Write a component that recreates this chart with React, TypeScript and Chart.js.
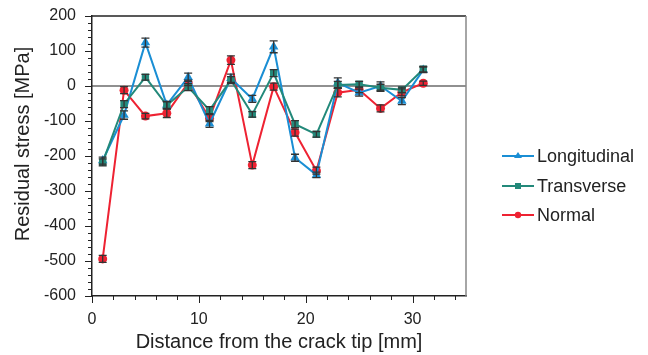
import React, { useEffect, useRef } from "react";
import { Chart, registerables } from "chart.js";

Chart.register(...registerables);

const distances = [1, 3, 5, 7, 9, 11, 13, 15, 17, 19, 21, 23, 25, 27, 29, 31];
const longitudinal = [-213, -83, 124, -54, 25, -108, 22, -37, 112, -205, -254, 9, -19, 0, -43, 46];
const longitudinalErr = [10, 12, 13, 10, 12, 10, 12, 10, 17, 10, 8, 14, 10, 12, 10, 8];
const transverse = [-218, -52, 25, -55, -3, -69, 17, -81, 37, -109, -138, 3, 5, -5, -11, 48];
const transverseErr = [10, 10, 8, 10, 10, 10, 10, 8, 10, 10, 8, 10, 8, 10, 8, 8];
const normal = [-494, -12, -86, -78, 9, -92, 74, -226, -2, -133, -242, -19, -11, -64, -18, 8];
const normalErr = [10, 10, 8, 12, 8, 10, 12, 10, 10, 10, 10, 12, 8, 10, 10, 6];

const seriesNames = ["Longitudinal", "Transverse", "Normal"];
const xTickLabels = [0, 10, 20, 30];
const yTickLabels = [200, 100, 0, -100, -200, -300, -400, -500, -600];

const COLORS = ["#1a8ed4", "#23897a", "#ee2232"];
const FONT = "'Liberation Sans', Arial, sans-serif";

const errs = [longitudinalErr, transverseErr, normalErr];

const customPlugin = {
  id: "custom",
  beforeDatasetsDraw(chart: any) {
    const { ctx, chartArea: a, scales } = chart;
    const y = scales.y;
    ctx.save();
    ctx.strokeStyle = "#222";
    ctx.lineWidth = 1.2;
    ctx.beginPath();
    ctx.moveTo(a.left, y.getPixelForValue(0));
    ctx.lineTo(a.right, y.getPixelForValue(0));
    ctx.stroke();
    ctx.restore();
  },
  afterDatasetsDraw(chart: any) {
    const { ctx, scales } = chart;
    const x = scales.x;
    const y = scales.y;
    ctx.save();
    chart.data.datasets.forEach((ds: any, i: number) => {
      const e = errs[i];
      ds.data.forEach((p: any, j: number) => {
        const px = x.getPixelForValue(p.x);
        const yt = y.getPixelForValue(p.y + e[j]);
        const yb = y.getPixelForValue(p.y - e[j]);
        ctx.strokeStyle = "#333";
        ctx.lineWidth = 1.3;
        ctx.beginPath();
        ctx.moveTo(px, yt);
        ctx.lineTo(px, yb);
        ctx.moveTo(px - 4, yt);
        ctx.lineTo(px + 4, yt);
        ctx.moveTo(px - 4, yb);
        ctx.lineTo(px + 4, yb);
        ctx.stroke();
      });
    });
    ctx.restore();
  },
  afterDraw(chart: any) {
    const { ctx, chartArea: a, scales } = chart;
    const x = scales.x;
    const y = scales.y;
    ctx.save();
    ctx.lineWidth = 1.5;
    ctx.strokeStyle = "#222";
    ctx.beginPath();
    ctx.moveTo(a.left, a.top);
    ctx.lineTo(a.right, a.top);
    ctx.stroke();
    ctx.strokeStyle = "#888";
    ctx.beginPath();
    ctx.moveTo(a.right, a.top);
    ctx.lineTo(a.right, a.bottom);
    ctx.stroke();
    ctx.strokeStyle = "#222";
    ctx.lineWidth = 1;
    ctx.beginPath();
    for (let v = -600; v <= 200; v += 20) {
      const py = Math.round(y.getPixelForValue(v)) + 0.5;
      const len = v % 100 === 0 ? 7 : 4;
      ctx.moveTo(a.left - len, py);
      ctx.lineTo(a.left, py);
    }
    for (let v = 0; v <= 34; v += 2) {
      const px = Math.round(x.getPixelForValue(v)) + 0.5;
      const len = v % 10 === 0 ? 7 : 4;
      ctx.moveTo(px, a.bottom);
      ctx.lineTo(px, a.bottom + len);
    }
    ctx.stroke();
    ctx.fillStyle = "#222";
    ctx.font = `20px ${FONT}`;
    ctx.textAlign = "center";
    ctx.textBaseline = "middle";
    ctx.fillText("Distance from the crack tip [mm]", (a.left + a.right) / 2, 342);
    ctx.save();
    ctx.translate(23, 144);
    ctx.rotate(-Math.PI / 2);
    ctx.fillText("Residual stress [MPa]", 0, 0);
    ctx.restore();
    const ly = [156, 186, 215];
    ctx.font = `18px ${FONT}`;
    ctx.textAlign = "left";
    seriesNames.forEach((name, i) => {
      ctx.strokeStyle = COLORS[i];
      ctx.fillStyle = COLORS[i];
      ctx.lineWidth = 2;
      ctx.beginPath();
      ctx.moveTo(502, ly[i]);
      ctx.lineTo(534, ly[i]);
      ctx.stroke();
      ctx.beginPath();
      if (i === 0) {
        ctx.moveTo(518, ly[i] - 4);
        ctx.lineTo(522, ly[i] + 2);
        ctx.lineTo(514, ly[i] + 2);
        ctx.closePath();
      } else if (i === 1) {
        ctx.rect(515, ly[i] - 3, 6, 6);
      } else {
        ctx.arc(518, ly[i], 3.2, 0, Math.PI * 2);
      }
      ctx.fill();
      ctx.fillStyle = "#222";
      ctx.fillText(name, 537, ly[i] + 1);
    });
    ctx.restore();
  },
};

export default function App() {
  const ref = useRef<HTMLCanvasElement | null>(null);
  useEffect(() => {
    document.body.style.margin = "0";
    if (!ref.current) return;
    const mk = (vals: number[]) => vals.map((v, i) => ({ x: distances[i], y: v }));
    const styles = ["triangle", "rect", "circle"];
    const radii = [5.5, 5.2, 4.5];
    const sets = [longitudinal, transverse, normal];
    const chart = new Chart(ref.current, {
      type: "line",
      data: {
        datasets: sets.map((s, i) => ({
          label: seriesNames[i],
          data: mk(s),
          borderColor: COLORS[i],
          backgroundColor: COLORS[i],
          borderWidth: 2,
          pointStyle: styles[i] as any,
          pointRadius: radii[i],
          pointBorderWidth: 0,
          pointHoverRadius: radii[i],
          tension: 0,
          order: [1, 0, 2][i],
        })),
      },
      options: {
        animation: false,
        responsive: false,
        devicePixelRatio: 1,
        layout: { padding: { left: 0, right: 182, top: 16, bottom: 0 } },
        plugins: { legend: { display: false }, tooltip: { enabled: false } },
        scales: {
          x: {
            type: "linear",
            min: 0,
            max: 35,
            grid: { display: false },
            border: { display: true, color: "#222", width: 1.5 },
            afterBuildTicks: (s: any) => {
              s.ticks = xTickLabels.map((v) => ({ value: v }));
            },
            afterFit: (s: any) => {
              s.height = 59;
              s.paddingLeft = 0;
              s.paddingRight = 0;
            },
            ticks: { color: "#222", font: { size: 16, family: FONT }, padding: 6, maxRotation: 0 },
          },
          y: {
            min: -600,
            max: 200,
            grid: { display: false },
            border: { display: true, color: "#222", width: 1.5 },
            afterBuildTicks: (s: any) => {
              s.ticks = yTickLabels.map((v) => ({ value: v }));
            },
            afterFit: (s: any) => {
              s.width = 92;
              s.paddingTop = 0;
              s.paddingBottom = 0;
            },
            ticks: { color: "#222", font: { size: 16, family: FONT }, padding: 8 },
          },
        },
      },
      plugins: [customPlugin],
    });
    return () => chart.destroy();
  }, []);
  return (
    <div style={{ position: "absolute", left: 0, top: 0, width: 648, height: 355 }}>
      <canvas ref={ref} width={648} height={355} style={{ width: 648, height: 355 }} />
    </div>
  );
}
